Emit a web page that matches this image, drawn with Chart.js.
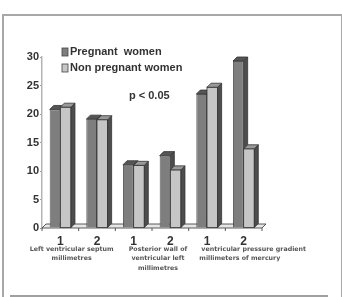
<!DOCTYPE html>
<html>
<head>
<meta charset="utf-8">
<script src="https://cdn.jsdelivr.net/npm/chart.js@4"></script>
<style>
  html, body { margin: 0; padding: 0; background: #fff; }
  #wrap { position: relative; width: 342px; height: 297px; }
  #frame { position: absolute; left: 2px; top: 14px; width: 337px; height: 290px; border: 2px solid #a8a8a8; border-bottom: none; }
  #rule { position: absolute; left: 10px; top: 295px; width: 318px; height: 2px; background: #a0a0a0; }
</style>
</head>
<body>
<div id="wrap">
  <div id="frame"></div>
  <div id="rule"></div>
  <canvas id="chart" width="342" height="297"></canvas>
</div>
<script>
const categories = ["1", "2", "1", "2", "1", "2"];
const groupLabels = [
    ["Left ventricular septum", "millimetres"],
    ["Posterior wall of", "ventricular left", "millimetres"],
    ["ventricular pressure gradient", "millimeters of mercury"],
];
const pregnant = [20.8, 19.1, 11.1, 12.7, 23.5, 29.3];
const nonPregnant = [21.2, 19.0, 11.0, 10.2, 24.7, 13.9];
const yTicks = [0, 5, 10, 15, 20, 25, 30];
const seriesNames = ["Pregnant  women", "Non pregnant women"];

const DEPTH = 4;
const frontColors = ["#7e7e7e", "#c6c6c6"];
const topColors = ["#555555", "#999999"];
const sideColor = "#4d4d4d";

function face(ctx, pts, fill) {
    ctx.beginPath();
    ctx.moveTo(pts[0][0], pts[0][1]);
    for (let i = 1; i < pts.length; i++) ctx.lineTo(pts[i][0], pts[i][1]);
    ctx.closePath();
    ctx.fillStyle = fill;
    ctx.fill();
    ctx.strokeStyle = "#333";
    ctx.lineWidth = 0.8;
    ctx.stroke();
}

const bars3d = {
    id: "bars3d",
    beforeDatasetsDraw(chart) {
        const ctx = chart.ctx;
        const area = chart.chartArea;
        const d = DEPTH;
        const y0 = chart.scales.y.getPixelForValue(0);
        ctx.save();
        // floor slab
        face(ctx, [[area.left, y0], [area.left + d, y0 - d], [area.right + d, y0 - d], [area.right, y0]], "#e6e6e6");
        ctx.strokeStyle = "#555";
        ctx.lineWidth = 1;
        for (let i = 0; i <= categories.length; i++) {
            const px = area.left + (area.right - area.left) * i / categories.length;
            ctx.beginPath();
            ctx.moveTo(px, y0);
            ctx.lineTo(px, y0 + 3);
            ctx.stroke();
        }
        ctx.restore();
    },
    afterDatasetsDraw(chart) {
        const ctx = chart.ctx;
        const d = DEPTH;
        const metas = [chart.getDatasetMeta(0), chart.getDatasetMeta(1)];
        ctx.save();
        for (let i = 0; i < categories.length; i++) {
            metas.forEach((meta, k) => {
                const bar = meta.data[i];
                const l = bar.x - bar.width / 2;
                const r = bar.x + bar.width / 2;
                const t = bar.y;
                const b = bar.base;
                if (k === 1) {
                    ctx.fillStyle = frontColors[1];
                    ctx.fillRect(l, t, r - l, b - t);
                    ctx.strokeStyle = "#333";
                    ctx.lineWidth = 0.8;
                    ctx.strokeRect(l, t, r - l, b - t);
                }
                face(ctx, [[r, t], [r + d, t - d], [r + d, b - d], [r, b]], sideColor);
                face(ctx, [[l, t], [l + d, t - d], [r + d, t - d], [r, t]], topColors[k]);
            });
        }
        ctx.restore();
    },
    afterDraw(chart) {
        const ctx = chart.ctx;
        const xs = chart.scales.x;
        ctx.save();
        // legend
        ctx.font = "bold 11px 'Liberation Sans', Arial, sans-serif";
        ctx.textBaseline = "middle";
        const ly = [52, 68];
        seriesNames.forEach((name, k) => {
            ctx.fillStyle = frontColors[k];
            ctx.fillRect(62, ly[k] - 4, 6, 8);
            ctx.strokeStyle = "#444";
            ctx.lineWidth = 0.8;
            ctx.strokeRect(62, ly[k] - 4, 6, 8);
            ctx.fillStyle = "#333";
            ctx.fillText(name, 70, ly[k]);
        });
        ctx.fillText("p < 0.05", 129, 96);
        // group labels
        ctx.font = "bold 6.3px 'DejaVu Sans', sans-serif";
        ctx.fillStyle = "#555";
        ctx.textBaseline = "middle";
        const lineY = [249, 258.5, 268];
        groupLabels.forEach((lines, g) => {
            const cx = (xs.getPixelForValue(g * 2) + xs.getPixelForValue(g * 2 + 1)) / 2;
            lines.forEach((txt, j) => {
                if (g === 2) {
                    ctx.textAlign = "left";
                    ctx.fillText(txt, cx - 24 - (j === 1 ? 2 : 0), lineY[j]);
                } else {
                    ctx.textAlign = "center";
                    ctx.fillText(txt, cx + (g === 0 ? -7 : 6), lineY[j]);
                }
            });
        });
        ctx.restore();
    },
};

new Chart(document.getElementById("chart"), {
    type: "bar",
    data: {
        labels: categories,
        datasets: [
            { label: seriesNames[0], data: pregnant, backgroundColor: frontColors[0], borderColor: "#333", borderWidth: 0.8 },
            { label: seriesNames[1], data: nonPregnant, backgroundColor: frontColors[1], borderColor: "#333", borderWidth: 0.8 },
        ],
    },
    options: {
        responsive: false,
        animation: false,
        layout: { padding: { top: 57, right: 80, bottom: 0, left: 0 } },
        datasets: { bar: { categoryPercentage: 0.58, barPercentage: 1 } },
        plugins: { legend: { display: false }, tooltip: { enabled: false } },
        scales: {
            x: {
                afterFit(scale) { scale.height = 297 - 57 - 171; },
                grid: { display: false, drawTicks: false },
                border: { display: false },
                ticks: { color: "#333", padding: 6, font: { family: "'Liberation Sans', Arial", size: 12, weight: "bold" } },
            },
            y: {
                min: 0,
                max: 30,
                afterFit(scale) { scale.width = 42; },
                afterBuildTicks(scale) { scale.ticks = yTicks.map(v => ({ value: v })); },
                grid: { drawOnChartArea: false, tickLength: 2, color: "#999" },
                border: { color: "#b5b5b5", width: 1.5 },
                ticks: { color: "#333", padding: 1, font: { family: "'Liberation Sans', Arial", size: 11, weight: "bold" } },
            },
        },
    },
    plugins: [bars3d],
});
</script>
</body>
</html>
